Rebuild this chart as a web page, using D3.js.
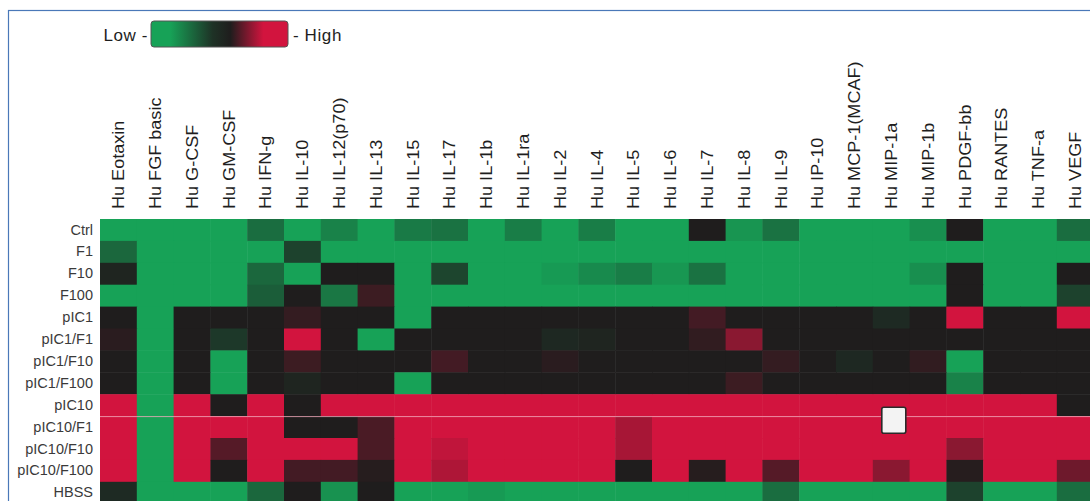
<!DOCTYPE html>
<html>
<head>
<meta charset="utf-8">
<script src="https://cdn.jsdelivr.net/npm/d3@7/dist/d3.min.js"></script>
<style>
  html, body { margin: 0; padding: 0; background: #ffffff; overflow: hidden; }
  svg { display: block; }
  text { font-family: Arial, "Liberation Sans", sans-serif; }
</style>
</head>
<body>
<svg id="chart" width="1090" height="501"></svg>
<script>
// Treatment groups (rows) and measured cytokines (columns)
const treatments = ["Ctrl", "F1", "F10", "F100", "pIC1", "pIC1/F1", "pIC1/F10", "pIC1/F100",
                    "pIC10", "pIC10/F1", "pIC10/F10", "pIC10/F100", "HBSS"];
const cytokines = ["Hu Eotaxin", "Hu FGF basic", "Hu G-CSF", "Hu GM-CSF", "Hu IFN-g", "Hu IL-10",
                   "Hu IL-12(p70)", "Hu IL-13", "Hu IL-15", "Hu IL-17", "Hu IL-1b", "Hu IL-1ra",
                   "Hu IL-2", "Hu IL-4", "Hu IL-5", "Hu IL-6", "Hu IL-7", "Hu IL-8", "Hu IL-9",
                   "Hu IP-10", "Hu MCP-1(MCAF)", "Hu MIP-1a", "Hu MIP-1b", "Hu PDGF-bb",
                   "Hu RANTES", "Hu TNF-a", "Hu VEGF"];

// Relative expression per treatment (0 = low, 0.5 = mid, 1 = high), one value per cytokine
const ctrl      = [0,0,0,0,0.2,0,0.12,0,0.15,0.18,0,0.14,0,0.14,0,0,0.5,0.05,0.18,0,0,0,0.07,0.5,0,0,0.2];
const f1        = [0.22,0,0,0,0,0.36,0,0,0,0,0,0,0,0,0,0,0,0,0,0,0,0,0,0,0,0,0];
const f10       = [0.47,0,0,0,0.22,0,0.5,0.5,0,0.35,0,0,0.03,0.09,0.14,0.04,0.18,0,0,0,0,0,0.07,0.5,0,0,0.5];
const f100      = [0,0,0,0,0.26,0.5,0.16,0.58,0,0,0,0,0,0,0,0,0,0,0,0,0,0,0,0.5,0,0,0.36];
const pic1      = [0.5,0,0.5,0.5,0.5,0.56,0.5,0.5,0,0.5,0.5,0.5,0.5,0.5,0.5,0.5,0.6,0.5,0.5,0.5,0.5,0.45,0.5,1,0.5,0.5,1];
const pic1f1    = [0.53,0,0.5,0.4,0.5,1,0.5,0,0.5,0.5,0.5,0.5,0.46,0.47,0.5,0.5,0.55,0.8,0.5,0.5,0.5,0.5,0.5,0.5,0.5,0.5,0.5];
const pic1f10   = [0.5,0,0.5,0,0.5,0.58,0.5,0.5,0.5,0.6,0.5,0.5,0.53,0.5,0.5,0.5,0.5,0.5,0.56,0.5,0.46,0.5,0.55,0,0.5,0.5,0.5];
const pic1f100  = [0.5,0,0.5,0,0.5,0.47,0.5,0.5,0,0.5,0.5,0.5,0.5,0.5,0.5,0.5,0.5,0.58,0.5,0.5,0.5,0.5,0.5,0.12,0.5,0.5,0.5];
const pic10     = [1,0,1,0.5,1,0.5,1,1,1,1,1,1,1,1,1,1,1,1,1,1,1,1,1,1,1,1,0.5];
const pic10f1   = [1,0,1,1,1,0.5,0.5,0.62,1,1,1,1,1,1,0.88,1,1,1,1,1,1,1,1,1,1,1,1];
const pic10f10  = [1,0,1,0.65,1,1,1,0.62,1,0.95,1,1,1,1,0.88,1,1,1,1,1,1,1,1,0.8,1,1,1];
const pic10f100 = [1,0,1,0.5,1,0.6,0.6,0.52,1,0.9,1,1,1,1,0.5,1,0.52,1,0.65,1,1,0.8,1,0.52,1,1,0.72];
const hbss      = [0.45,0,0,0,0.22,0.5,0.06,0.5,0,0,0.03,0,0,0,0,0,0,0,0.2,0,0,0,0,0.36,0,0,0.2];

const matrix = [ctrl, f1, f10, f100, pic1, pic1f1, pic1f10, pic1f100,
                pic10, pic10f1, pic10f10, pic10f100, hbss];

const cells = [];
matrix.forEach((vals, r) => vals.forEach((v, c) => {
  cells.push({ treatment: treatments[r], cytokine: cytokines[c], value: v });
}));

const svg = d3.select("#chart");

// Frame around the panel
svg.append("rect")
  .attr("x", 8.5).attr("y", 10.5)
  .attr("width", 1200).attr("height", 600)
  .attr("fill", "none")
  .attr("stroke", "#4a78b8")
  .attr("stroke-width", 1.2);

const cellW = 36.8, cellH = 21.9;
const gridLeft = 100, gridTop = 219;

const x = d3.scaleBand().domain(cytokines).range([gridLeft, gridLeft + cellW * cytokines.length]).padding(0);
const y = d3.scaleBand().domain(treatments).range([gridTop, gridTop + cellH * treatments.length]).padding(0);

const color = d3.scaleLinear()
  .domain([0, 0.5, 1])
  .range(["#17a257", "#1f1d1d", "#d2143e"])
  .interpolate(d3.interpolateRgb);

// Heatmap cells
svg.append("g")
  .selectAll("rect")
  .data(cells)
  .join("rect")
  .attr("x", d => x(d.cytokine))
  .attr("y", d => y(d.treatment))
  .attr("width", x.bandwidth() + 0.5)
  .attr("height", y.bandwidth() + 0.5)
  .attr("fill", d => color(d.value));

// Thin light seam between pIC10 and pIC10/F1
svg.append("line")
  .attr("x1", gridLeft).attr("x2", 1090)
  .attr("y1", y("pIC10/F1") + 0.5).attr("y2", y("pIC10/F1") + 0.5)
  .attr("stroke", "#f2a9bb")
  .attr("stroke-opacity", 0.8)
  .attr("stroke-width", 1);

// Selection marker
const mx = x("Hu MIP-1a"), my = y("pIC10");
svg.append("rect")
  .attr("x", mx + 9).attr("y", my + 13)
  .attr("width", 24).attr("height", 26)
  .attr("rx", 2)
  .attr("fill", "#f3f3f3")
  .attr("stroke", "#2a2a2a")
  .attr("stroke-width", 1.6);

// Column labels (rotated)
const xAxis = svg.append("g")
  .attr("transform", `translate(0, 209)`)
  .call(d3.axisTop(x).tickSize(0).tickPadding(0));
xAxis.select(".domain").remove();
xAxis.selectAll("text")
  .attr("x", 0).attr("y", 0).attr("dy", 0)
  .attr("text-anchor", "start")
  .attr("transform", "translate(5.8,0) rotate(-90) scale(1.13,1)")
  .attr("fill", "#1e1e1e")
  .style("font-size", "16px")
  .style("font-family", "Arial, 'Liberation Sans', sans-serif");

// Row labels
const yAxis = svg.append("g")
  .attr("transform", `translate(93, 0)`)
  .call(d3.axisLeft(y).tickSize(0).tickPadding(0));
yAxis.select(".domain").remove();
yAxis.selectAll("text")
  .attr("fill", "#3a3a3a")
  .style("font-size", "14.5px")
  .style("font-family", "Arial, 'Liberation Sans', sans-serif");

// Colour key
const defs = svg.append("defs");
const grad = defs.append("linearGradient").attr("id", "keyGrad");
const keyStops = [0, 0.14, 0.45, 0.58, 0.82, 1];
const keyValues = [0, 0, 0.42, 0.5, 1, 1];
keyStops.forEach((s, i) => {
  grad.append("stop").attr("offset", s).attr("stop-color", color(keyValues[i]));
});
svg.append("rect")
  .attr("x", 151).attr("y", 21)
  .attr("width", 137).attr("height", 26)
  .attr("rx", 3)
  .attr("fill", "url(#keyGrad)")
  .attr("stroke", "#555")
  .attr("stroke-width", 1);

svg.append("text")
  .attr("x", 148).attr("y", 41)
  .attr("text-anchor", "end")
  .attr("fill", "#1e1e1e")
  .style("font-size", "17px")
  .style("letter-spacing", "0.6px")
  .text("Low -");
svg.append("text")
  .attr("x", 293).attr("y", 41)
  .attr("text-anchor", "start")
  .attr("fill", "#1e1e1e")
  .style("font-size", "17px")
  .style("letter-spacing", "0.6px")
  .text("- High");
</script>
</body>
</html>
